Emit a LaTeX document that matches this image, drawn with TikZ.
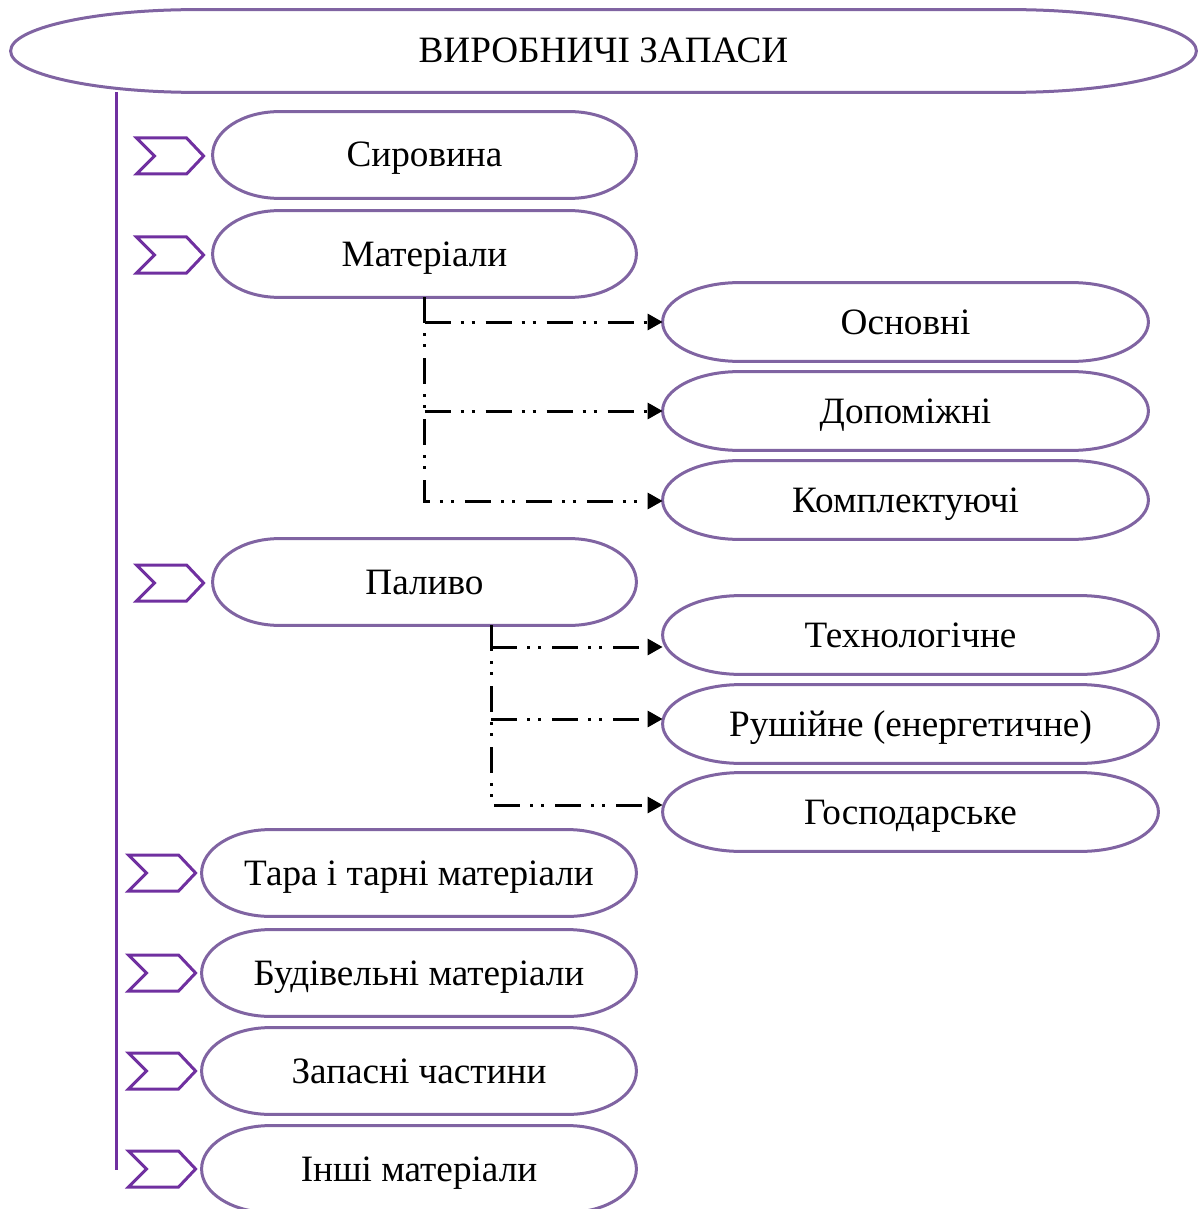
\documentclass[tikz,border=0pt]{standalone}
\usepackage{fontspec}
\setmainfont{Liberation Serif}
\usetikzlibrary{calc,positioning,arrows.meta}

\definecolor{boxline}{HTML}{8064A2}
\definecolor{tagline}{HTML}{7030A0}

\tikzset{
  term/.style={rectangle, inner sep=0pt, text height=15pt, text depth=3pt,
    font=\fontsize{18.6}{22}\selectfont},
  termline/.style={draw=boxline, line width=1.5pt},
  dashdotdot/.style={line width=1.5pt, dash pattern=on 13pt off 5pt on 1.5pt off 4pt on 1.5pt off 5.5pt},
  tip/.style={-{Triangle[length=7.5pt,width=8pt]}},
  chev/.pic={\draw[tagline, line width=1.5pt, line join=miter]
    (-67,-18) -- (-17,-18) -- (0,0) -- (-17,18) -- (-67,18) -- (-49,0) -- cycle;}
}

\begin{document}
\begin{tikzpicture}[x=0.5pt,y=-0.5pt]
  \useasboundingbox (0,0) rectangle (1198,1209);
  % top
  \node[term, minimum width=592.5pt, minimum height=41pt] (vz) at (603.5,51) {ВИРОБНИЧІ ЗАПАСИ};
  % left column
  \foreach \nm/\cy/\txt in {syr/155/Сировина, mat/254/Матеріали, pal/582/Паливо}
    \node[term, minimum width=211.5pt, minimum height=43pt] (\nm) at (424.5,\cy) {\txt};
  \foreach \nm/\cy/\txt in {tara/873/Тара і тарні матеріали, bud/973/Будівельні матеріали,
      zap/1071/Запасні частини, inshi/1169/Інші матеріали}
    \node[term, minimum width=217pt, minimum height=43pt] (\nm) at (419,\cy) {\txt};
  % right column
  \foreach \nm/\cy/\txt in {osn/322/Основні, dop/411/Допоміжні, kom/500/Комплектуючі}
    \node[term, minimum width=242.5pt, minimum height=39pt] (\nm) at (905.5,\cy) {\txt};
  \foreach \nm/\cy/\txt in {tekh/635/Технологічне, rush/724/Рушійне (енергетичне), hosp/812/Господарське}
    \node[term, minimum width=247.5pt, minimum height=39pt] (\nm) at (910.5,\cy) {\txt};

  % terminator outlines
  \foreach \nd in {vz,syr,mat,pal,tara,bud,zap,inshi,osn,dop,kom,tekh,rush,hosp}
    \draw[termline] let \p1=(\nd.south west), \p2=(\nd.north east),
      \n1={0.157*(\x2-\x1)}, \n2={(\y2-\y1)/2} in
      (\x1+\n1,\y2) -- (\x2-\n1,\y2)
      arc[start angle=90, end angle=-90, x radius=\n1, y radius=\n2]
      -- (\x1+\n1,\y1)
      arc[start angle=270, end angle=90, x radius=\n1, y radius=\n2] -- cycle;

  % tags
  \foreach \nd in {syr,mat,pal} \pic at ($(\nd.west)+(-9,1)$) {chev};
  \foreach \nd in {tara,bud,zap,inshi} \pic at ($(\nd.west)+(-6,0)$) {chev};

  % main line
  \coordinate (vend) at (116,1170);
  \draw[tagline, line width=1.5pt] (vz.south -| vend) -- (vend);

  % materials
  \draw[dashdotdot, tip] (mat.south) |- ([yshift=-0.5pt]kom.west);
  \foreach \nd in {osn,dop}
    \draw[dashdotdot, tip] (mat.south |- \nd.west) -- (\nd.west);

  % fuel
  \coordinate (pfork) at ([xshift=33.25pt]pal.south);
  \draw[dashdotdot, tip] (pfork) |- ([yshift=3.5pt]hosp.west);
  \draw[dashdotdot, tip] (pfork |- 0,647) -- ([yshift=-6pt]tekh.west);
  \draw[dashdotdot, tip] (pfork |- 0,719) -- ([yshift=2.5pt]rush.west);
\end{tikzpicture}
\end{document}
